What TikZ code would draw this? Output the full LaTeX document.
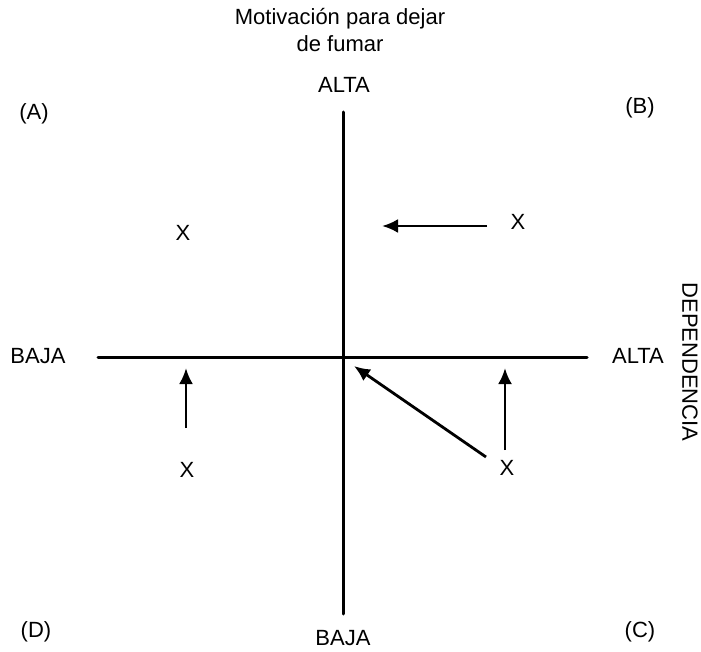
\documentclass[tikz,border=0pt]{standalone}
\usepackage{fontspec}
\setmainfont{Liberation Sans}
\usetikzlibrary{arrows.meta}
\tikzset{
  axis/.style    = {line width=1.5pt, line cap=round},
  mov/.style     = {-{Latex[length=8pt,width=7pt]}, line width=1.4pt},
  lab/.style     = {font=\fontsize{11}{13.5}\selectfont, inner sep=0pt},
  quadlab/.style = {font=\fontsize{11}{13.5}\selectfont, inner sep=0pt},
  pt/.style      = {font=\fontsize{11}{13.5}\selectfont, inner sep=0pt},
}
\begin{document}
\begin{tikzpicture}[x=0.5pt, y=-0.5pt]
  \useasboundingbox (0,0) rectangle (701,652);

  % axes
  \coordinate (vtop) at (343,112);
  \coordinate (vbot) at (343,614);
  \coordinate (hleft) at (98,357);
  \coordinate (hright) at (587,357);
  \draw[axis] (vtop) -- (vbot);
  \draw[axis] (hleft) -- (hright);

  % axis labels
  \node[lab, align=center] (mot) at (340,30) {Motivación para dejar\\de fumar};
  \node[lab] (vhigh) at (344,85) {ALTA};
  \node[lab] (vlow) at (343,638) {BAJA};
  \node[lab] (hlow) at (38,356) {BAJA};
  \node[lab] (hhigh) at (638,356) {ALTA};
  \node[lab, rotate=-90] (dep) at (690,362) {DEPENDENCIA};

  % quadrants
  \node[quadlab] (qa) at (34,114) {(A)};
  \node[quadlab] (qb) at (640,108) {(B)};
  \node[quadlab] (qc) at (640,632) {(C)};
  \node[quadlab] (qd) at (36,632) {(D)};

  % smokers
  \node[pt] (xa) at (183,233) {X};
  \node[pt] (xb) at (518,222) {X};
  \node[pt] (xd) at (187,470) {X};
  \node[pt] (xc) at (507,468) {X};

  % moves
  \coordinate (b0) at (487,226);
  \coordinate (b1) at (382,226);
  \coordinate (d0) at (186,428);
  \coordinate (d1) at (186,368);
  \coordinate (c0) at (505,450);
  \coordinate (c1) at (505,368);
  \coordinate (e0) at (486,457);
  \coordinate (e1) at (354,366);
  \draw[mov] (b0) -- (b1);
  \draw[mov] (d0) -- (d1);
  \draw[mov] (c0) -- (c1);
  \draw[mov] (e0) -- (e1);
\end{tikzpicture}
\end{document}
